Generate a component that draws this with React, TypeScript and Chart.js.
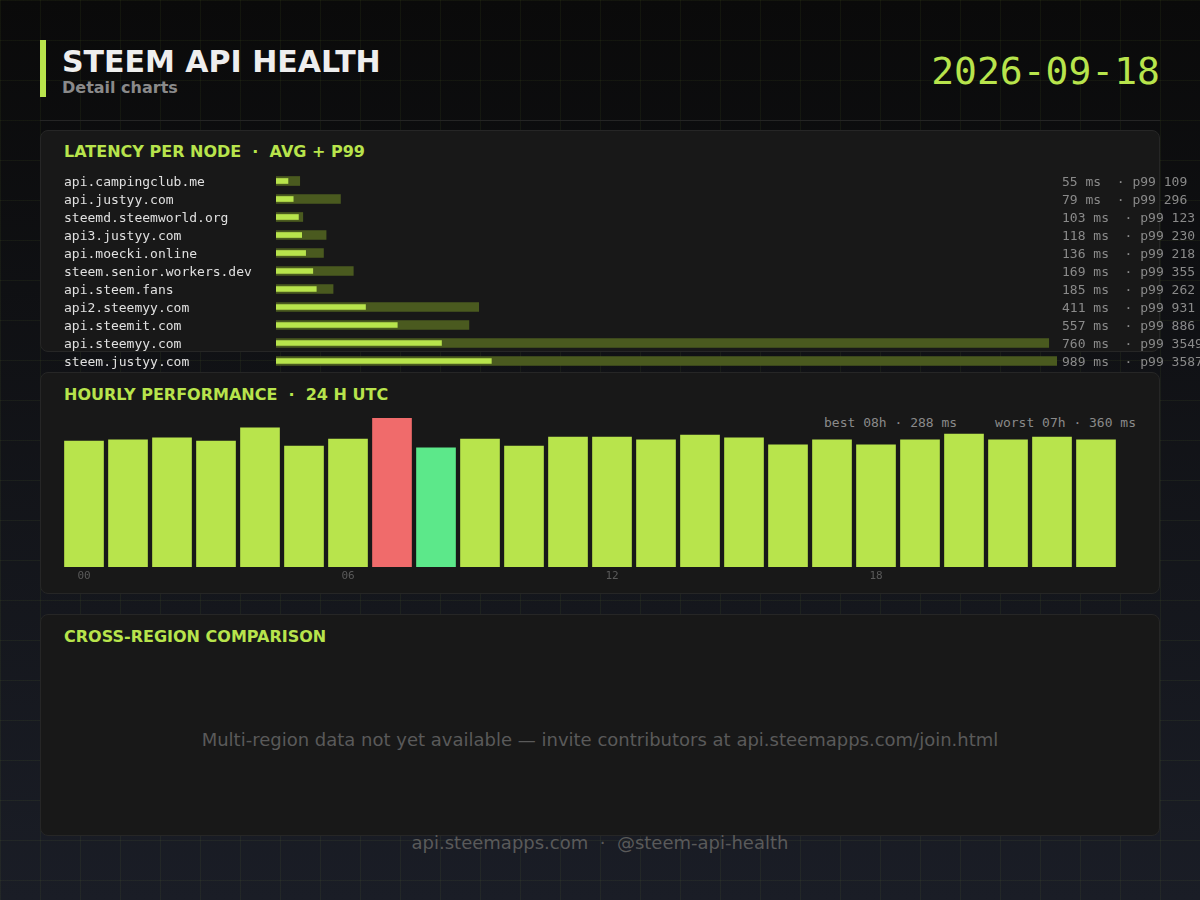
import React, { useEffect, useRef } from "react";
import { Chart, registerables } from "chart.js";

Chart.register(...registerables);

// ---------- data ----------
const nodeNames = [
  "api.campingclub.me",
  "api.justyy.com",
  "steemd.steemworld.org",
  "api3.justyy.com",
  "api.moecki.online",
  "steem.senior.workers.dev",
  "api.steem.fans",
  "api2.steemyy.com",
  "api.steemit.com",
  "api.steemyy.com",
  "steem.justyy.com",
];
const avgMs = [55, 79, 103, 118, 136, 169, 185, 411, 557, 760, 989];
const p99Ms = [109, 296, 123, 230, 218, 355, 262, 931, 886, 3549, 3587];

const hourLabels = [
  "00", "01", "02", "03", "04", "05", "06", "07", "08", "09", "10", "11",
  "12", "13", "14", "15", "16", "17", "18", "19", "20", "21", "22", "23",
];
const hourlyMs = [
  304, 307, 312, 304, 336, 292, 309, 360, 288, 309, 292, 314,
  314, 307, 319, 312, 295, 307, 295, 307, 321, 307, 314, 307,
];
const hourTickEvery = 6;

const reportDate = "2026-09-18";

// ---------- styles ----------
const LIME = "#b8e44c";
const P99C = "#4a5a1f";
const RED = "#f06b6b";
const GREEN = "#5ce88a";
const MONO = '"DejaVu Sans Mono", monospace';
const SANS = '"DejaVu Sans", sans-serif';

const panelStyle = (top: number): React.CSSProperties => ({
  position: "absolute",
  left: 40,
  top,
  width: 1120,
  height: 222,
  boxSizing: "border-box",
  background: "#181818",
  border: "1px solid #262626",
  borderRadius: 8,
});

const panelTitle = (top: number): React.CSSProperties => ({
  position: "absolute",
  left: 64,
  top,
  font: `bold 16px ${SANS}`,
  lineHeight: "16px",
  color: LIME,
  whiteSpace: "pre",
});

const zeroPad = (s: any) => {
  s.paddingTop = 0;
  s.paddingBottom = 0;
};

export default function App() {
  const latRef = useRef<HTMLCanvasElement | null>(null);
  const hourRef = useRef<HTMLCanvasElement | null>(null);

  useEffect(() => {
    const rightLabels = avgMs.map((a, i) => `${a} ms  · p99 ${p99Ms[i]}`);
    const lat = new Chart(latRef.current!, {
      type: "bar",
      data: {
        labels: nodeNames,
        datasets: [
          { data: avgMs, backgroundColor: LIME, barThickness: 5, grouped: false, borderWidth: 0 } as any,
          { data: p99Ms, backgroundColor: P99C, barThickness: 9, grouped: false, borderWidth: 0 } as any,
        ],
      },
      options: {
        indexAxis: "y",
        animation: false,
        responsive: true,
        maintainAspectRatio: false,
        layout: { padding: 0 },
        plugins: { legend: { display: false }, tooltip: { enabled: false } },
        scales: {
          x: { display: false, min: 0, max: Math.max(...p99Ms) },
          y: {
            position: "left",
            grid: { display: false, drawTicks: false },
            border: { display: false },
            ticks: {
              crossAlign: "far",
              color: "#e0e0e0",
              font: { family: MONO, size: 13 },
              padding: 0,
              labelOffset: 1.5,
              autoSkip: false,
            },
            afterFit: (s: any) => {
              s.width = 212;
              zeroPad(s);
            },
          },
          y2: {
            type: "category",
            labels: rightLabels,
            position: "right",
            offset: true,
            grid: { display: false, drawTicks: false },
            border: { display: false },
            ticks: {
              crossAlign: "near",
              color: "#8a8a8a",
              font: { family: MONO, size: 13 },
              padding: 5,
              labelOffset: 1.5,
              autoSkip: false,
            },
            afterFit: (s: any) => {
              s.width = 143;
              zeroPad(s);
            },
          },
        } as any,
      },
    });

    const maxV = Math.max(...hourlyMs);
    const minV = Math.min(...hourlyMs);
    const worstIdx = hourlyMs.indexOf(maxV);
    const bestIdx = hourlyMs.indexOf(minV);
    const hour = new Chart(hourRef.current!, {
      type: "bar",
      data: {
        labels: hourLabels,
        datasets: [
          {
            data: hourlyMs,
            backgroundColor: hourlyMs.map((_, i) => (i === worstIdx ? RED : i === bestIdx ? GREEN : LIME)),
            barThickness: 39,
            borderWidth: 0,
          },
        ],
      },
      options: {
        animation: false,
        responsive: true,
        maintainAspectRatio: false,
        layout: { padding: 0 },
        plugins: { legend: { display: false }, tooltip: { enabled: false } },
        scales: {
          x: {
            grid: { display: false, drawTicks: false },
            border: { display: false },
            ticks: {
              autoSkip: false,
              maxRotation: 0,
              padding: 3,
              color: "#5a5a5a",
              font: { family: MONO, size: 11 },
              callback: (_v: any, i: number) => (i % hourTickEvery === 0 ? hourLabels[i] : ""),
            },
            afterFit: (s: any) => {
              s.height = 20;
            },
          },
          y: { display: false, min: 0, max: maxV },
        } as any,
      },
    });

    return () => {
      lat.destroy();
      hour.destroy();
    };
  }, []);

  const maxV = Math.max(...hourlyMs);
  const minV = Math.min(...hourlyMs);
  const worstH = hourLabels[hourlyMs.indexOf(maxV)];
  const bestH = hourLabels[hourlyMs.indexOf(minV)];

  return (
    <div
      style={{
        position: "fixed",
        left: 0,
        top: 0,
        width: 1200,
        height: 900,
        overflow: "hidden",
        backgroundImage:
          "linear-gradient(rgba(184,228,76,0.055) 1px, transparent 1px), linear-gradient(90deg, rgba(184,228,76,0.055) 1px, transparent 1px), linear-gradient(180deg, #0a0a0a 0%, #1a1d26 100%)",
        backgroundSize: "40px 40px, 40px 40px, 100% 100%",
        fontFamily: SANS,
      }}
    >
      {/* header */}
      <div style={{ position: "absolute", left: 40, top: 40, width: 6, height: 57, background: LIME }} />
      <div
        style={{
          position: "absolute",
          left: 62,
          top: 47,
          font: `bold 30px ${SANS}`,
          lineHeight: "30px",
          color: "#eeeeee",
          whiteSpace: "pre",
        }}
      >
        STEEM API HEALTH
      </div>
      <div
        style={{
          position: "absolute",
          left: 62,
          top: 80,
          font: `bold 16px ${SANS}`,
          lineHeight: "16px",
          color: "#8a8a8a",
        }}
      >
        Detail charts
      </div>
      <div
        style={{
          position: "absolute",
          right: 40,
          top: 52,
          font: `38px ${MONO}`,
          lineHeight: "38px",
          color: LIME,
        }}
      >
        {reportDate}
      </div>
      <div style={{ position: "absolute", left: 40, top: 120, width: 1120, height: 1, background: "#252525" }} />

      {/* panels */}
      <div style={panelStyle(130)} />
      <div style={panelStyle(372)} />
      <div style={panelStyle(614)} />

      <div style={panelTitle(143.5)}>{"LATENCY PER NODE  ·  AVG + P99"}</div>
      <div style={panelTitle(386.5)}>{"HOURLY PERFORMANCE  ·  24 H UTC"}</div>
      <div style={panelTitle(628.5)}>{"CROSS-REGION COMPARISON"}</div>

      {/* latency chart */}
      <div style={{ position: "absolute", left: 64, top: 171.5, width: 1136, height: 198 }}>
        <canvas ref={latRef} />
      </div>

      {/* hourly stats */}
      <div
        style={{
          position: "absolute",
          right: 64,
          top: 416,
          font: `13px ${MONO}`,
          lineHeight: "13px",
          color: "#8a8a8a",
          whiteSpace: "pre",
        }}
      >
        <span>{`best ${bestH}h · ${minV} ms`}</span>
        <span style={{ marginLeft: 38 }}>{`worst ${worstH}h · ${maxV} ms`}</span>
      </div>

      {/* hourly chart */}
      <div style={{ position: "absolute", left: 62, top: 418, width: 1056, height: 169 }}>
        <canvas ref={hourRef} />
      </div>

      {/* cross region placeholder */}
      <div
        style={{
          position: "absolute",
          left: 40,
          width: 1120,
          top: 731,
          textAlign: "center",
          font: `18px ${SANS}`,
          lineHeight: "18px",
          color: "#5a5a5a",
          whiteSpace: "pre",
        }}
      >
        Multi-region data not yet available — invite contributors at api.steemapps.com/join.html
      </div>

      {/* footer */}
      <div
        style={{
          position: "absolute",
          left: 0,
          width: 1200,
          top: 834,
          textAlign: "center",
          font: `18px ${SANS}`,
          lineHeight: "18px",
          color: "#5a5a5a",
          whiteSpace: "pre",
        }}
      >
        {"api.steemapps.com  ·  @steem-api-health"}
      </div>
    </div>
  );
}
